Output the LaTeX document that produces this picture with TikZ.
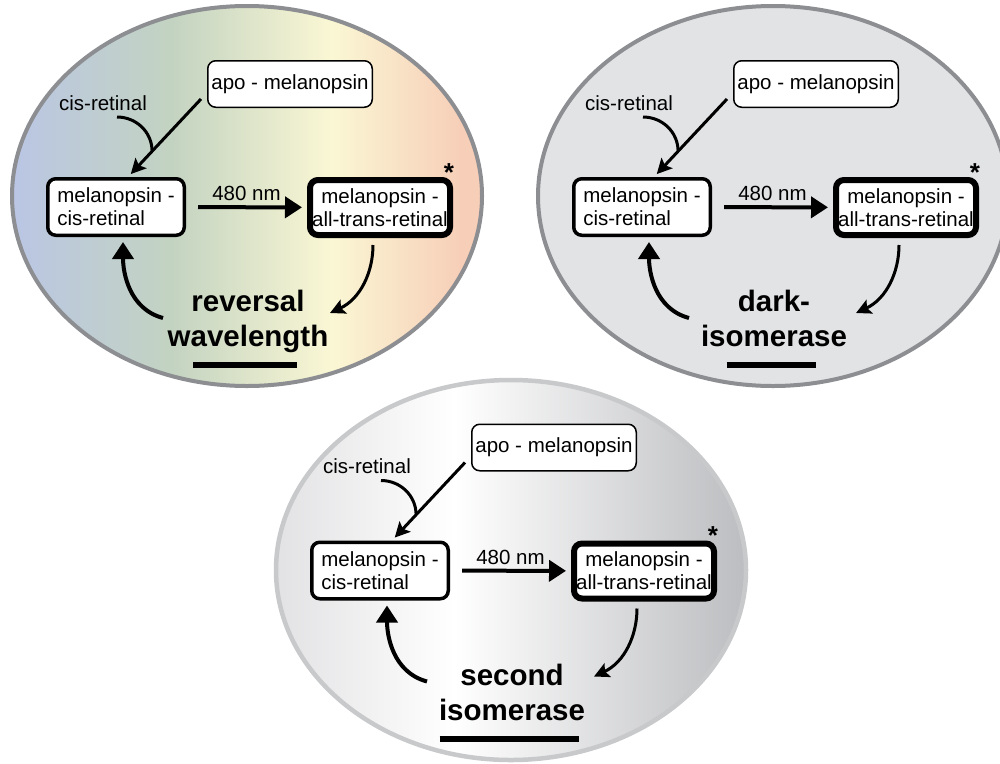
\documentclass[tikz,border=0pt]{standalone}
\usepackage{fontspec}
\setmainfont{Liberation Sans}
\usetikzlibrary{arrows.meta,positioning}

\definecolor{rimdark}{RGB}{140,142,146}
\definecolor{rimlight}{RGB}{200,201,203}
\definecolor{greyfill}{RGB}{226,227,229}
\definecolor{specblue}{RGB}{186,198,228}
\definecolor{specgreen}{RGB}{195,211,193}
\definecolor{specyellow}{RGB}{250,247,212}
\definecolor{specpeach}{RGB}{247,206,184}
\definecolor{fadeleft}{RGB}{226,226,228}
\definecolor{faderight}{RGB}{188,189,192}

\pgfdeclarehorizontalshading{spectrum}{100bp}{color(0bp)=(specblue); color(25bp)=(specblue); color(42bp)=(specgreen); color(59bp)=(specyellow); color(73bp)=(specpeach); color(100bp)=(specpeach)}
\pgfdeclarehorizontalshading{greyfade}{100bp}{color(0bp)=(fadeleft); color(25bp)=(fadeleft); color(44bp)=(white); color(75bp)=(faderight); color(100bp)=(faderight)}

\tikzset{
    rainbowpanel/.style={shade, shading=spectrum, draw=rimdark, line width=4pt},
    darkpanel/.style={fill=greyfill, draw=rimdark, line width=4pt},
    fadepanel/.style={shade, shading=greyfade, draw=rimlight, line width=4.5pt},
    boxtext/.style={font=\fontsize{20.5}{23}\selectfont},
    apobox/.style={boxtext, draw, fill=white, rounded corners=8pt,
        inner sep=2pt, line width=1.5pt,
        minimum width=164.5pt, minimum height=46.5pt},
    cisbox/.style={apobox, line width=3.5pt, align=left,
        minimum width=136.5pt, minimum height=56.5pt},
    transbox/.style={apobox, line width=6pt, align=center,
        minimum width=140pt, minimum height=55pt},
    enzyme/.style={font=\fontsize{29.5}{34}\selectfont\bfseries, anchor=base},
    flow/.style={line width=3pt, -{Stealth[length=15pt,width=15pt,inset=3pt]}},
    bigflow/.style={line width=4pt, -{Triangle[length=17pt,width=21pt]}}
}

\begin{document}
\begin{tikzpicture}[x=1pt, y=1pt]
    \useasboundingbox (0,0) rectangle (1000,-763);

    \foreach \dx/\dy/\drop/\look/\wordA/\wordB/\hb [count=\k] in {
        0/0/0/rainbowpanel/reversal/wavelength/52,
        526/0/0/darkpanel/dark-/isomerase/44.5,
        264/-363.5/10.5/fadepanel/second/isomerase/69.5}
    {
    \begin{scope}[shift={(\dx,\dy)}]
    % Background
    \path[\look] (247,{-196-\drop}) ellipse [x radius=235, y radius=190];

    % States
    \node [apobox] (Apo\k) at (290,-84) {apo - melanopsin};
    \node [cisbox] (Cis\k) at (116,-207) {melanopsin -\\cis-retinal};
    \node [transbox] (Trans\k) at (380,-207.5) {melanopsin -\\all-trans-retinal};
    \node [font=\fontsize{26}{26}\selectfont\bfseries, anchor=base, inner sep=0pt] (Star\k)
        at ([shift={(-4,-4)}]Trans\k.north east) {*};
    \node [boxtext, anchor=base, inner sep=0pt] (Retinal\k) at (103,-110) {cis-retinal};

    % Enzyme
    \node [enzyme] (EnzA\k) at (248,{-311-\drop}) {\wordA};
    \node [enzyme] (EnzB\k) at (248,{-346-\drop}) {\wordB};
    \draw [line width=6pt] ({245-\hb},{-365-\drop}) -- ({245+\hb},{-365-\drop});

    % Reactions
    \coordinate (Back\k) at (163,-318);
    \coordinate (Into\k) at (330,-313);
    \draw [flow, shorten >=4pt] ([shift={(-6,9)}]Apo\k.south west)
        -- coordinate[pos=0.67] (Join\k) ([xshift=12pt]Cis\k.north);
    \draw [line width=3pt] ([shift={(14,-7)}]Retinal\k.base) to[out=0, in=90] (Join\k);
    \draw [bigflow, shorten <=12pt, shorten >=5pt] (Cis\k)
        -- node [boxtext, above=1pt] (Light\k) {480 nm} (Trans\k);
    \draw [flow, shorten <=7pt] ([xshift=-7pt]Trans\k.south) to[out=-90, in=25] (Into\k);
    \draw [bigflow, shorten >=5pt] (Back\k) to[out=165, in=-90] ([xshift=7pt]Cis\k.south);
    \end{scope}
    }

\end{tikzpicture}
\end{document}
